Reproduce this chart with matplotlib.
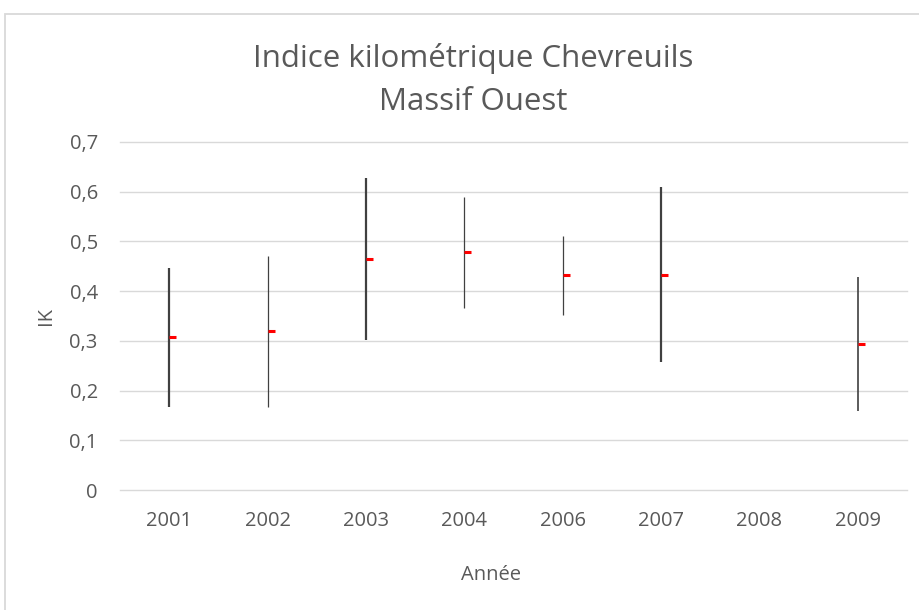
import matplotlib
matplotlib.use("Agg")
import matplotlib.pyplot as plt
import numpy as np
from matplotlib.patches import Rectangle

# ---- data ----
years = ["2001", "2002", "2003", "2004", "2006", "2007", "2008", "2009"]
ik_high = [0.447, 0.471, 0.627, 0.589, 0.511, 0.609, np.nan, 0.428]
ik_low = [0.166, 0.166, 0.302, 0.367, 0.353, 0.258, np.nan, 0.158]
ik_mean = [0.307, 0.320, 0.464, 0.479, 0.433, 0.433, np.nan, 0.294]
yticks = [0, 0.1, 0.2, 0.3, 0.4, 0.5, 0.6, 0.7]
ytick_labels = ["0", "0,1", "0,2", "0,3", "0,4", "0,5", "0,6", "0,7"]
title_lines = ["Indice kilométrique Chevreuils", "Massif Ouest"]

# ---- style ----
line_widths = [1.6, 0.9, 1.6, 0.9, 0.9, 1.6, 1.0, 1.2]
txt = "#595959"
grid = "#d9d9d9"
plt.rcParams["font.family"] = ["Open Sans", "DejaVu Sans"]

W, H = 920, 610
fig = plt.figure(figsize=(W / 100, H / 100), dpi=100)
fig.patch.set_facecolor("white")

# outer chart border (clipped at right / bottom)
fig.patches.append(Rectangle((5 / W, -0.1), 1.2, 1.1 - 14 / H,
                             transform=fig.transFigure, fill=False,
                             edgecolor=grid, linewidth=1.3))

ax = fig.add_axes([120 / W, (H - 490) / H, (907 - 120) / W, (490 - 142) / H])
x = np.arange(len(years))

ax.vlines(x, ik_low, ik_high, colors="#404040", linewidths=line_widths, zorder=3)
ax.plot(x, ik_mean, linestyle="none", marker=[(0, 0), (1, 0)], markersize=10,
        markeredgewidth=2.2, markeredgecolor="#ff0000", color="#ff0000", zorder=4)

ax.set_xlim(-0.5, len(years) - 0.5)
ax.set_ylim(0, 0.7)
ax.set_yticks(yticks)
ax.set_yticklabels(ytick_labels)
ax.set_xticks(x)
ax.set_xticklabels(years)
ax.tick_params(axis="both", length=0, colors=txt, labelsize=14.5)
ax.tick_params(axis="y", pad=16)
ax.tick_params(axis="x", pad=15)
ax.grid(axis="y", color=grid, linewidth=1.0)
for gl in ax.get_ygridlines():
    gl.set_clip_on(False)
ax.set_axisbelow(True)
for s in ax.spines.values():
    s.set_visible(False)

ax.set_xlabel("Année", color=txt, fontsize=14.5)
ax.xaxis.set_label_coords((491 - 120) / 787, -(575 - 490) / 348)
ax.xaxis.label.set_va("center")
ax.set_ylabel("IK", color=txt, fontsize=14.5)
ax.yaxis.set_label_coords((46 - 120) / 787, (490 - 316) / 348)
ax.yaxis.label.set_va("center")

fig.text(473 / W, 1 - 59 / H, title_lines[0], ha="center", va="center",
         color=txt, fontsize=22.5)
fig.text(473 / W, 1 - 102 / H, title_lines[1], ha="center", va="center",
         color=txt, fontsize=22.5)

fig.savefig("out.png", dpi=100)
